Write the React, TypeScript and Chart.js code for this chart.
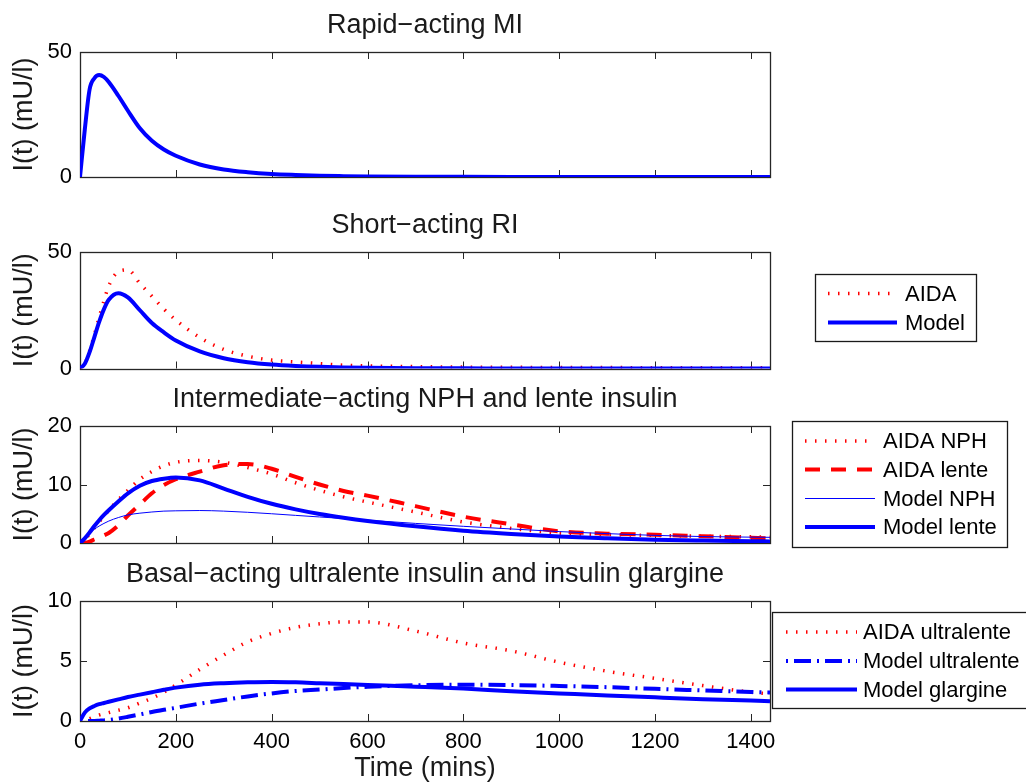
import React, { useEffect, useRef } from 'react';
import { Chart, registerables } from 'chart.js';

Chart.register(...registerables);

// ---------------- data ----------------
const timeMins = [0, 10, 20, 30, 40, 50, 60, 80, 100, 125, 150, 175, 200, 250, 300, 350, 400, 450, 500, 550, 600, 700, 800, 900, 1000, 1100, 1200, 1300, 1400, 1440];
const xTicks = [0, 200, 400, 600, 800, 1000, 1200, 1400];

const rapidModel = [0, 19, 35, 39.5, 40.8, 40, 38, 32.5, 26.5, 19.5, 14.5, 11, 8.5, 5, 3, 1.9, 1.2, 0.8, 0.5, 0.35, 0.25, 0.12, 0.06, 0.03, 0.02, 0.01, 0, 0, 0, 0];

const shortAIDA = [0, 2, 7.5, 14.5, 22, 29, 35.5, 41.5, 42.3, 36.5, 31, 25.5, 20.8, 13.3, 8.2, 5.3, 3.6, 2.8, 2.1, 1.4, 1.1, 0.8, 0.6, 0.5, 0.45, 0.4, 0.35, 0.3, 0.3, 0.3];
const shortModel = [0, 2, 7, 13.5, 20, 25.5, 29.5, 32.3, 30.5, 25, 19.5, 15.5, 12, 7.3, 4.4, 2.7, 1.7, 1.1, 0.7, 0.45, 0.3, 0.15, 0.07, 0.04, 0.02, 0.01, 0, 0, 0, 0];

const nphAIDA = [0, 0.6, 1.5, 2.6, 3.6, 4.6, 5.6, 7.4, 9.0, 10.9, 12.2, 13.2, 13.8, 14.1, 13.8, 12.9, 11.8, 10.3, 9.0, 7.9, 7.0, 5.3, 3.6, 2.5, 1.7, 1.45, 1.3, 1.15, 1.05, 1.0];
const lenteAIDA = [0, 0.05, 0.25, 0.6, 0.9, 1.3, 1.7, 3.0, 4.7, 6.6, 8.5, 9.9, 10.9, 12.2, 13.3, 13.5, 12.7, 11.3, 10.0, 8.9, 8.1, 6.3, 4.5, 3.2, 2.0, 1.6, 1.4, 1.15, 0.9, 0.8];
const nphModel = [0, 0.8, 1.65, 2.35, 2.9, 3.35, 3.75, 4.35, 4.8, 5.1, 5.3, 5.45, 5.5, 5.55, 5.45, 5.25, 5.0, 4.72, 4.45, 4.18, 3.9, 3.35, 2.85, 2.4, 1.95, 1.6, 1.3, 1.1, 1.0, 0.97];
const lenteModel = [0, 0.8, 1.8, 2.9, 3.9, 4.8, 5.6, 7.1, 8.5, 9.8, 10.6, 11.0, 11.2, 10.7, 9.3, 7.9, 6.7, 5.75, 4.95, 4.3, 3.75, 2.85, 2.1, 1.55, 1.1, 0.8, 0.57, 0.42, 0.3, 0.27];

const ultraAIDA = [0, 0.05, 0.2, 0.35, 0.5, 0.6, 0.7, 0.9, 1.1, 1.5, 1.9, 2.4, 3.0, 4.3, 5.5, 6.6, 7.3, 7.8, 8.1, 8.25, 8.25, 7.5, 6.5, 5.85, 4.9, 4.15, 3.55, 2.95, 2.4, 2.25];
const ultraModel = [0, 0, 0, 0.01, 0.03, 0.05, 0.08, 0.2, 0.35, 0.55, 0.75, 0.93, 1.1, 1.45, 1.75, 2.05, 2.3, 2.5, 2.62, 2.75, 2.85, 2.98, 3.03, 3.0, 2.92, 2.82, 2.68, 2.55, 2.42, 2.38];
const glargineModel = [0, 0.7, 1.05, 1.25, 1.4, 1.5, 1.6, 1.8, 2.0, 2.2, 2.4, 2.6, 2.78, 3.03, 3.15, 3.22, 3.25, 3.22, 3.15, 3.08, 3.0, 2.86, 2.7, 2.47, 2.3, 2.13, 1.97, 1.82, 1.7, 1.65];

// ---------------- styles ----------------
const FONT = '"Liberation Sans", Arial, Helvetica, sans-serif';
const RED = '#ff0000';
const BLUE = '#0000ff';
const DOT = [1.5, 8.5];
const DASH = [15, 11];
const DASHDOT = [2, 6, 17, 6];

type Series = { label: string; data: number[]; color: string; width: number; dash: number[] };
type LegendSpec = { box: [number, number, number, number]; rows: number[]; lineX: [number, number]; textX: number };
type PanelSpec = {
  title: string;
  top: number;
  height: number;
  padTop: number;
  padBottom: number;
  yMax: number;
  yTicks: number[];
  showX: boolean;
  series: Series[];
  legend: LegendSpec | null;
};

const panels: PanelSpec[] = [
  {
    title: 'Rapid\u2212acting MI',
    top: 0, height: 200, padTop: 52, padBottom: 23,
    yMax: 50, yTicks: [0, 50], showX: false,
    series: [{ label: 'Model', data: rapidModel, color: BLUE, width: 4, dash: [] }],
    legend: null,
  },
  {
    title: 'Short\u2212acting RI',
    top: 190, height: 200, padTop: 62, padBottom: 21.5,
    yMax: 50, yTicks: [0, 50], showX: false,
    series: [
      { label: 'AIDA', data: shortAIDA, color: RED, width: 3.5, dash: DOT },
      { label: 'Model', data: shortModel, color: BLUE, width: 4, dash: [] },
    ],
    legend: { box: [815, 274, 976, 341], rows: [293.5, 322.5], lineX: [828, 897], textX: 905 },
  },
  {
    title: 'Intermediate\u2212acting NPH and lente insulin',
    top: 370, height: 200, padTop: 56, padBottom: 27,
    yMax: 20, yTicks: [0, 10, 20], showX: false,
    series: [
      { label: 'AIDA NPH', data: nphAIDA, color: RED, width: 3.5, dash: DOT },
      { label: 'AIDA lente', data: lenteAIDA, color: RED, width: 4, dash: DASH },
      { label: 'Model NPH', data: nphModel, color: BLUE, width: 1, dash: [] },
      { label: 'Model lente', data: lenteModel, color: BLUE, width: 4, dash: [] },
    ],
    legend: { box: [792, 421, 1007, 547], rows: [441, 469.5, 498.5, 527], lineX: [805, 875], textX: 883 },
  },
  {
    title: 'Basal\u2212acting ultralente insulin and insulin glargine',
    top: 550, height: 233, padTop: 51, padBottom: 0,
    yMax: 10, yTicks: [0, 5, 10], showX: true,
    series: [
      { label: 'AIDA ultralente', data: ultraAIDA, color: RED, width: 3.5, dash: DOT },
      { label: 'Model ultralente', data: ultraModel, color: BLUE, width: 4, dash: DASHDOT },
      { label: 'Model glargine', data: glargineModel, color: BLUE, width: 4, dash: [] },
    ],
    legend: { box: [772, 612, 1040, 708], rows: [632, 661, 689.5], lineX: [786, 857], textX: 863 },
  },
];

function makeFramePlugin(spec: PanelSpec) {
  return {
    id: 'matlabFrame',
    beforeDatasetsDraw(chart: any) {
      const { ctx, chartArea: a, scales } = chart;
      const tl = 7;
      ctx.save();
      ctx.strokeStyle = '#262626';
      ctx.lineWidth = 1;
      ctx.beginPath();
      for (const v of xTicks) {
        const px = Math.round(scales.x.getPixelForValue(v)) + 0.5;
        ctx.moveTo(px, a.bottom);
        ctx.lineTo(px, a.bottom - tl);
        ctx.moveTo(px, a.top);
        ctx.lineTo(px, a.top + tl);
      }
      for (const v of spec.yTicks) {
        const py = Math.round(scales.y.getPixelForValue(v)) + 0.5;
        ctx.moveTo(a.left, py);
        ctx.lineTo(a.left + tl, py);
        ctx.moveTo(a.right, py);
        ctx.lineTo(a.right - tl, py);
      }
      ctx.stroke();
      ctx.lineWidth = 1.3;
      ctx.strokeRect(Math.round(a.left) + 0.5, Math.round(a.top) + 0.5, Math.round(a.right - a.left), Math.round(a.bottom - a.top));
      ctx.restore();
    },
    afterDraw(chart: any) {
      const { ctx, chartArea: a } = chart;
      ctx.save();
      ctx.fillStyle = '#1a1a1a';
      ctx.font = `27px ${FONT}`;
      ctx.textAlign = 'center';
      ctx.textBaseline = 'alphabetic';
      ctx.fillText(spec.title, (a.left + a.right) / 2, a.top - 19);
      const lg = spec.legend;
      if (lg) {
        const off = spec.top;
        const [x1, y1, x2, y2] = lg.box;
        ctx.fillStyle = '#ffffff';
        ctx.fillRect(x1, y1 - off, x2 - x1, y2 - y1);
        ctx.strokeStyle = '#1a1a1a';
        ctx.lineWidth = 1.3;
        ctx.strokeRect(x1 + 0.5, y1 - off + 0.5, x2 - x1, y2 - y1);
        spec.series.forEach((s, i) => {
          const y = lg.rows[i] - off;
          ctx.save();
          ctx.strokeStyle = s.color;
          ctx.lineWidth = s.width;
          ctx.lineCap = 'butt';
          ctx.setLineDash(s.dash);
          ctx.beginPath();
          ctx.moveTo(lg.lineX[0], y);
          ctx.lineTo(lg.lineX[1], y);
          ctx.stroke();
          ctx.restore();
          ctx.fillStyle = '#000000';
          ctx.font = `22px ${FONT}`;
          ctx.textAlign = 'left';
          ctx.textBaseline = 'middle';
          ctx.fillText(s.label, lg.textX, y + 1);
        });
      }
      ctx.restore();
    },
  };
}

function Panel({ spec }: { spec: PanelSpec }) {
  const ref = useRef<HTMLCanvasElement>(null);
  useEffect(() => {
    const canvas = ref.current;
    if (!canvas) return;
    const n = spec.series.length;
    const chart = new Chart(canvas, {
      type: 'line',
      data: {
        datasets: spec.series.map((s, i) => ({
          label: s.label,
          data: timeMins.map((t, k) => ({ x: t, y: s.data[k] })),
          borderColor: s.color,
          backgroundColor: s.color,
          borderWidth: s.width,
          borderDash: s.dash,
          borderCapStyle: 'butt',
          borderJoinStyle: 'round',
          pointRadius: 0,
          fill: false,
          cubicInterpolationMode: 'monotone',
          order: n - i,
        })),
      },
      options: {
        animation: false,
        responsive: false,
        devicePixelRatio: 1,
        events: [],
        layout: { padding: { left: 0, right: 1026 - 770, top: spec.padTop, bottom: spec.padBottom } },
        scales: {
          x: {
            type: 'linear',
            min: 0,
            max: 1440,
            display: spec.showX,
            grid: { display: false, drawTicks: false },
            border: { display: false },
            afterBuildTicks: (s: any) => {
              s.ticks = xTicks.map((v) => ({ value: v }));
            },
            afterFit: (s: any) => {
              s.height = spec.showX ? 62 : 0;
            },
            ticks: {
              font: { family: FONT, size: 22 },
              color: '#000',
              padding: 8,
              maxRotation: 0,
              autoSkip: false,
              callback: (v: any) => String(v),
            },
            title: {
              display: true,
              text: 'Time (mins)',
              font: { family: FONT, size: 27, lineHeight: 1 },
              color: '#1a1a1a',
              padding: { top: 0, bottom: 1 },
            },
          },
          y: {
            type: 'linear',
            min: 0,
            max: spec.yMax,
            grid: { display: false, drawTicks: false },
            border: { display: false },
            afterBuildTicks: (s: any) => {
              s.ticks = spec.yTicks.map((v) => ({ value: v }));
            },
            afterFit: (s: any) => {
              s.width = 80;
            },
            ticks: { font: { family: FONT, size: 22 }, color: '#000', padding: 8, callback: (v: any) => String(v) },
            title: {
              display: true,
              text: 'I(t) (mU/l)',
              font: { family: FONT, size: 27, lineHeight: 1 },
              color: '#1a1a1a',
              padding: { top: 11.5, bottom: 0 },
            },
          },
        },
        plugins: {
          legend: { display: false },
          tooltip: { enabled: false },
          title: { display: false },
        },
      } as any,
      plugins: [makeFramePlugin(spec)],
    });
    return () => chart.destroy();
  }, [spec]);
  return (
    <canvas
      ref={ref}
      width={1026}
      height={spec.height}
      style={{ position: 'absolute', left: 0, top: spec.top, width: 1026, height: spec.height }}
    />
  );
}

export default function App() {
  return (
    <div style={{ position: 'fixed', left: 0, top: 0, width: 1026, height: 783, background: '#ffffff', overflow: 'hidden' }}>
      {panels.map((p, i) => (
        <Panel key={i} spec={p} />
      ))}
    </div>
  );
}
